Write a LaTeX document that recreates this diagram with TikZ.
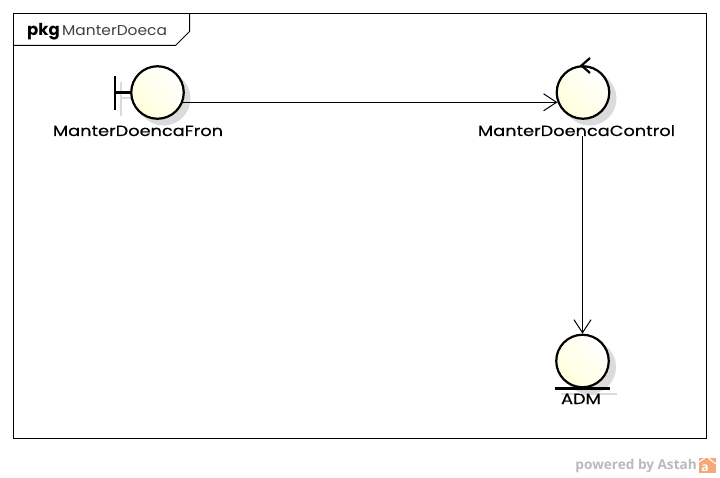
\documentclass[tikz,border=0pt]{standalone}
\usepackage{fontspec}
\setmainfont{Poppins}
\newfontfamily\logofont{Open Sans}
\newfontfamily\labelfont[FakeStretch=1.2,FakeBold=0.5]{Poppins}
\newfontfamily\titlefont[FakeStretch=1.08]{Poppins}
\usetikzlibrary{arrows.meta}
\definecolor{robustfill}{rgb}{1,1,0.86}
\definecolor{robustshadow}{gray}{0.86}
\definecolor{logoorange}{rgb}{0.96,0.66,0.48}
\tikzset{
	robust/.style={circle, draw=black, line width=2.2pt, minimum size=52.5pt, inner sep=0pt, shading=axis, left color=white, right color=robustfill, shading angle=-45},
	robustdrop/.style={circle, fill=robustshadow, minimum size=54pt, inner sep=0pt},
	robustlabel/.style={font=\labelfont\fontsize{14.8}{16}\selectfont, inner sep=0pt},
	flow/.style={line width=1pt, -{Straight Barb[length=13pt,width=17pt,line width=1pt]}},
}
\begin{document}
\begin{tikzpicture}[x=1pt,y=-1pt]
	\useasboundingbox (0,0) rectangle (720,478);
	\fill [white] (0,0) rectangle (720,478);

	% frame and tab
	\draw [line width=1pt] (13.5,13.5) rectangle (706.5,438.5);
	\draw [line width=1pt] (13.5,45.5) -- (175.5,45.5) -- (189.5,31.5) -- (189.5,13.5);
	\node (pkgword) [anchor=base west, inner sep=0pt, font=\fontsize{16.5}{18}\selectfont\bfseries] at (27,36) {pkg};
	\node (pkgname) [anchor=base west, inner sep=0pt, font=\titlefont\fontsize{14.3}{16}\selectfont, text=black!75] at (62,36) {ManterDoeca};

	% shadows
	\node (frontdrop) [robustdrop] at (163.5,98.5) {};
	\node (controldrop) [robustdrop] at (589.5,98.5) {};
	\node (admdrop) [robustdrop] at (589,367) {};
	\draw [robustshadow, line width=2pt] (121,82) -- (121,116);
	\draw [robustshadow, line width=2pt] (121,98.5) -- (136,98.5);
	\draw [robustshadow, line width=2pt] (561,394) -- (617,394);

	% boundary
	\draw [line width=2.2pt] (115,76) -- (115,110);
	\draw [line width=2.2pt] (115,92.5) -- (132,92.5);
	\node (front) [robust] at (157.5,92.5) {};
	\node (frontlabel) [robustlabel, anchor=base] at (138,136) {ManterDoencaFron};

	% control
	\node (control) [robust] at (583,92.5) {};
	\draw [line width=2.2pt] (590,58) -- (581.5,65.5) -- (590,73);
	\node (controllabel) [robustlabel, anchor=base] at (576.5,136) {ManterDoencaControl};

	% entity
	\node (adm) [robust] at (582.5,361) {};
	\draw [line width=2.2pt] (554.5,388.5) -- (610,388.5);
	\node (admlabel) [robustlabel, anchor=base] at (581,404) {ADM};

	% connectors
	\draw [flow] (front.-21) -- (control.201);
	\draw [flow] (controllabel.south -| adm.north) -- (adm.north);

	% footer
	\node (powered) [anchor=base east, inner sep=0pt, font=\logofont\fontsize{13.6}{15}\selectfont\bfseries, text=black!27] at (697,469) {powered by Astah};
	\fill [logoorange] (699,458) rectangle (716,473);
	\draw [white, line width=1pt] (699,462) -- (705,458) (716,464) -- (708,458);
	\node (logo) [inner sep=0pt, text=white, font=\logofont\fontsize{12}{12}\selectfont\bfseries] at (705,468) {a};
\end{tikzpicture}
\end{document}
